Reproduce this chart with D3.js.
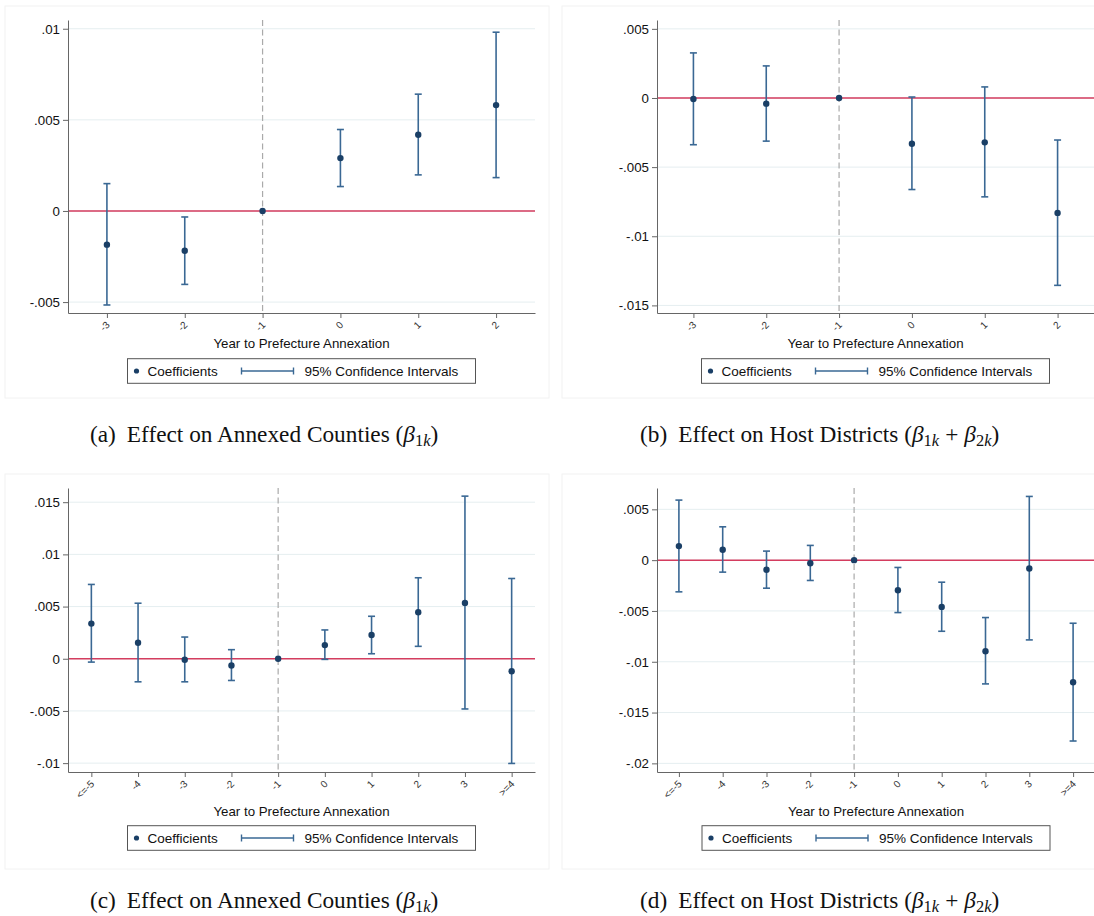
<!DOCTYPE html>
<html>
<head>
<meta charset="utf-8">
<script src="https://cdn.jsdelivr.net/npm/d3@7"></script>
<style>
  body { margin: 0; background: #fff; }
  svg { display: block; }
</style>
</head>
<body>
<svg id="chart" width="1094" height="916"></svg>
<script>
// event-time categories
let catsShort = ['-3', '-2', '-1', '0', '1', '2'];
let catsLong = ['<=-5', '-4', '-3', '-2', '-1', '0', '1', '2', '3', '>=4'];

// (a) annexed counties, short window
let coefA = [-0.00185, -0.00218, 0, 0.0029, 0.00418, 0.00581];
let lowA = [-0.00516, -0.00403, null, 0.00134, 0.00198, 0.00183];
let highA = [0.0015, -0.00033, null, 0.00447, 0.00641, 0.00981];

// (b) host districts, short window
let coefB = [-0.00007, -0.00041, 0, -0.00331, -0.00321, -0.00831];
let lowB = [-0.00338, -0.00312, null, -0.00662, -0.00715, -0.01355];
let highB = [0.00326, 0.00232, null, 0.00007, 0.0008, -0.00304];

// (c) annexed counties, long window
let coefC = [0.00337, 0.00154, -0.0001, -0.00064, 0, 0.00131, 0.00228, 0.00446, 0.00535, -0.00119];
let lowC = [-0.00032, -0.00221, -0.00221, -0.00208, null, -0.00006, 0.00048, 0.00119, -0.00481, -0.01003];
let highC = [0.00712, 0.00532, 0.00208, 0.00087, null, 0.00276, 0.00407, 0.00776, 0.01558, 0.00769];

// (d) host districts, long window
let coefD = [0.00138, 0.00102, -0.00095, -0.0003, 0, -0.00296, -0.0046, -0.00897, -0.00082, -0.01202];
let lowD = [-0.00312, -0.00118, -0.00276, -0.002, null, -0.00516, -0.007, -0.01218, -0.00785, -0.0178];
let highD = [0.00591, 0.00328, 0.00089, 0.00145, null, -0.00072, -0.00217, -0.00565, 0.00627, -0.00621];

// y axis ticks and extents
let ticksA = [-0.005, 0, 0.005, 0.01];
let ticksB = [-0.015, -0.01, -0.005, 0, 0.005];
let ticksC = [-0.01, -0.005, 0, 0.005, 0.01, 0.015];
let ticksD = [-0.02, -0.015, -0.01, -0.005, 0, 0.005];
let rangeA = [-0.0056, 0.01048];
let rangeB = [-0.01555, 0.00564];
let rangeC = [-0.01085, 0.01636];
let rangeD = [-0.02085, 0.0071];

let captionLabels = ['(a)', '(b)', '(c)', '(d)'];
let captionTexts = ['Effect on Annexed Counties', 'Effect on Host Districts',
  'Effect on Annexed Counties', 'Effect on Host Districts'];
let captionSubs = [['1k'], ['1k', '2k'], ['1k'], ['1k', '2k']];

let xTitle = 'Year to Prefecture Annexation';
let legendLabels = ['Coefficients', '95% Confidence Intervals'];

let svg = d3.select('#chart');
let sans = 'Liberation Sans, Arial, Helvetica, sans-serif';
let serif = 'Liberation Serif, Times New Roman, serif';

let navy = '#1a3f66';
let ciColor = '#3a6894';
let red = '#d43d5f';

let fmt = (d) => {
  if (d === 0) return '0';
  return String(d).replace('0.', '.');
};

let panels = [
  { cats: catsShort, coef: coefA, low: lowA, high: highA, ticks: ticksA, range: rangeA,
    left: 68, right: 535, top: 20, bottom: 313, frame: [5, 6, 549, 398],
    titleY: 348, legendY: 371, capX: 90, capY: 442 },
  { cats: catsShort, coef: coefB, low: lowB, high: highB, ticks: ticksB, range: rangeB,
    left: 657, right: 1094, top: 20, bottom: 313, frame: [562, 6, 1110, 398],
    titleY: 348, legendY: 371, capX: 640, capY: 442 },
  { cats: catsLong, coef: coefC, low: lowC, high: highC, ticks: ticksC, range: rangeC,
    left: 68, right: 535, top: 488, bottom: 772, frame: [5, 474, 549, 869],
    titleY: 815.5, legendY: 838, capX: 90, capY: 908 },
  { cats: catsLong, coef: coefD, low: lowD, high: highD, ticks: ticksD, range: rangeD,
    left: 657, right: 1095, top: 488, bottom: 772, frame: [562, 474, 1110, 869],
    titleY: 815.5, legendY: 838, capX: 640, capY: 908 }
];

let drawPanel = (p, idx) => {
  let g = svg.append('g');

  g.append('rect')
    .attr('x', p.frame[0]).attr('y', p.frame[1])
    .attr('width', p.frame[2] - p.frame[0])
    .attr('height', p.frame[3] - p.frame[1])
    .attr('fill', 'none')
    .attr('stroke', '#f2f2f2');

  let x = d3.scalePoint().domain(p.cats).range([p.left, p.right]).padding(0.5);
  let y = d3.scaleLinear().domain(p.range).range([p.bottom, p.top]);

  // grid
  g.append('g')
    .selectAll('line')
    .data(p.ticks)
    .join('line')
    .attr('x1', p.left).attr('x2', p.right)
    .attr('y1', (d) => y(d)).attr('y2', (d) => y(d))
    .attr('stroke', '#e5eef0')
    .attr('stroke-width', 1);

  // reference year
  g.append('line')
    .attr('x1', x('-1')).attr('x2', x('-1'))
    .attr('y1', p.top).attr('y2', p.bottom)
    .attr('stroke', '#aaaaaa')
    .attr('stroke-width', 1.2)
    .attr('stroke-dasharray', '6,3.5');

  // zero line
  g.append('line')
    .attr('x1', p.left).attr('x2', p.right)
    .attr('y1', y(0)).attr('y2', y(0))
    .attr('stroke', red)
    .attr('stroke-width', 1.5);

  let rows = p.cats.map((c, i) => {
    return { cat: c, coef: p.coef[i], low: p.low[i], high: p.high[i] };
  });

  // confidence intervals
  let ci = g.append('g')
    .selectAll('g')
    .data(rows.filter((r) => r.low !== null))
    .join('g')
    .attr('stroke', ciColor)
    .attr('stroke-width', 1.6);

  ci.append('line')
    .attr('x1', (r) => x(r.cat)).attr('x2', (r) => x(r.cat))
    .attr('y1', (r) => y(r.low)).attr('y2', (r) => y(r.high));
  ci.append('line')
    .attr('x1', (r) => x(r.cat) - 3.5).attr('x2', (r) => x(r.cat) + 3.5)
    .attr('y1', (r) => y(r.low)).attr('y2', (r) => y(r.low));
  ci.append('line')
    .attr('x1', (r) => x(r.cat) - 3.5).attr('x2', (r) => x(r.cat) + 3.5)
    .attr('y1', (r) => y(r.high)).attr('y2', (r) => y(r.high));

  // coefficients
  g.append('g')
    .selectAll('circle')
    .data(rows)
    .join('circle')
    .attr('cx', (r) => x(r.cat))
    .attr('cy', (r) => y(r.coef))
    .attr('r', 3.2)
    .attr('fill', navy);

  // axes
  let yAxis = d3.axisLeft(y).tickValues(p.ticks).tickSize(5).tickSizeOuter(0)
    .tickPadding(3).tickFormat(fmt);
  let yg = g.append('g').attr('transform', 'translate(' + p.left + ',0)').call(yAxis);
  yg.selectAll('path, line').attr('stroke', '#666');
  yg.selectAll('text')
    .attr('font-family', sans).attr('font-size', 13.3).attr('fill', '#111');

  let xAxis = d3.axisBottom(x).tickSize(5).tickSizeOuter(0);
  let xg = g.append('g').attr('transform', 'translate(0,' + p.bottom + ')').call(xAxis);
  xg.selectAll('path, line').attr('stroke', '#666');
  xg.selectAll('text')
    .attr('x', 0).attr('y', 0).attr('dy', 0)
    .attr('transform', 'translate(3,12.5) rotate(-45)')
    .attr('text-anchor', 'end')
    .attr('font-family', sans).attr('font-size', 10).attr('fill', '#333');

  let cx = (p.left + p.right) / 2;
  g.append('text')
    .attr('x', cx).attr('y', p.titleY)
    .attr('text-anchor', 'middle')
    .attr('font-family', sans).attr('font-size', 13.3).attr('fill', '#111')
    .text(xTitle);

  // legend
  let bw = 348, bh = 24.6;
  let bx = cx - bw / 2;
  let ly = p.legendY;
  let lg = g.append('g');
  lg.append('rect')
    .attr('x', bx).attr('y', ly - bh / 2)
    .attr('width', bw).attr('height', bh)
    .attr('fill', '#fff').attr('stroke', '#555').attr('stroke-width', 1);
  lg.append('circle').attr('cx', bx + 9).attr('cy', ly).attr('r', 2.6).attr('fill', navy);
  lg.append('text')
    .attr('x', bx + 20).attr('y', ly + 4.8)
    .attr('font-family', sans).attr('font-size', 13.5).attr('fill', '#111')
    .text(legendLabels[0]);
  let sym = lg.append('g').attr('stroke', ciColor).attr('stroke-width', 1.4);
  sym.append('line').attr('x1', bx + 114).attr('x2', bx + 166).attr('y1', ly).attr('y2', ly);
  sym.append('line').attr('x1', bx + 114).attr('x2', bx + 114).attr('y1', ly - 3.5).attr('y2', ly + 3.5);
  sym.append('line').attr('x1', bx + 166).attr('x2', bx + 166).attr('y1', ly - 3.5).attr('y2', ly + 3.5);
  lg.append('text')
    .attr('x', bx + 177).attr('y', ly + 4.8)
    .attr('font-family', sans).attr('font-size', 13.5).attr('fill', '#111')
    .text(legendLabels[1]);

  // caption
  let t = svg.append('text')
    .attr('x', p.capX).attr('y', p.capY)
    .attr('font-family', serif).attr('font-size', 23.3).attr('fill', '#111');
  t.append('tspan').text(captionLabels[idx]);
  t.append('tspan').attr('dx', 11).text(captionTexts[idx] + ' (');
  captionSubs[idx].forEach((s, i) => {
    if (i > 0) t.append('tspan').attr('dy', -4).attr('dx', 6).text('+');
    t.append('tspan').attr('dx', i > 0 ? 6 : 0).attr('font-style', 'italic').text('β');
    t.append('tspan').attr('dy', 4).attr('font-size', 16.5).text(s[0]);
    t.append('tspan').attr('font-size', 16.5).attr('font-style', 'italic').text(s[1]);
  });
  t.append('tspan').attr('dy', -4).text(')');
};

panels.forEach(drawPanel);
</script>
</body>
</html>
